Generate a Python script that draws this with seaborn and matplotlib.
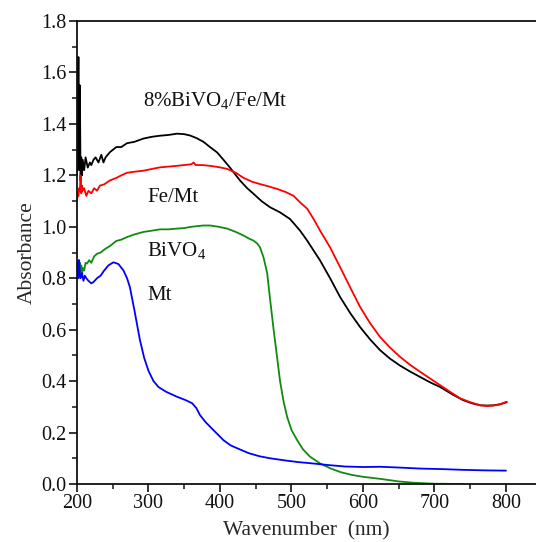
import numpy as np
import pandas as pd
import matplotlib
matplotlib.use("Agg")
import matplotlib.pyplot as plt
from matplotlib.ticker import MultipleLocator
import seaborn as sns

# ---- data ----
bk_x = [200, 201, 202, 203, 204, 205, 206, 207, 208, 210, 212, 215, 218, 220, 223, 226, 230, 234, 237, 240,
        246, 255, 262, 270, 280, 293, 305, 316, 328, 340, 350, 358, 367, 377, 386, 396, 405, 414, 428, 438,
        447, 458, 470, 484, 498, 512, 522, 540, 554, 568, 582, 596, 610, 624, 638, 652, 666, 680, 694, 708,
        724, 740, 752, 764, 774, 783, 792, 801]
bk_y = [1.20, 1.35, 1.66, 1.22, 1.55, 1.18, 1.27, 1.20, 1.26, 1.22, 1.27, 1.23, 1.25, 1.24, 1.26, 1.27, 1.25, 1.28, 1.25, 1.27,
        1.29, 1.31, 1.31, 1.325, 1.33, 1.343, 1.35, 1.354, 1.357, 1.362, 1.36, 1.355, 1.345, 1.33, 1.31, 1.289, 1.26, 1.23, 1.18, 1.15,
        1.128, 1.10, 1.076, 1.056, 1.03, 0.985, 0.946, 0.869, 0.80, 0.727, 0.665, 0.61, 0.562, 0.52, 0.487, 0.46, 0.437, 0.416, 0.395, 0.377,
        0.35, 0.326, 0.314, 0.306, 0.305, 0.306, 0.31, 0.318]

rd_x = [200, 201, 202, 203, 204, 205, 206, 207, 208, 210, 213, 216, 220, 224, 228, 232, 238, 246, 255, 262,
        270, 280, 293, 305, 316, 328, 340, 350, 360, 363, 366, 375, 386, 398, 410, 422, 433, 445, 456, 468,
        480, 492, 503, 512, 522, 531, 540, 554, 568, 582, 596, 610, 624, 638, 652, 666, 680, 694, 708, 722,
        736, 750, 764, 774, 783, 792, 801]
rd_y = [1.10, 1.13, 1.12, 1.15, 1.14, 1.20, 1.13, 1.16, 1.14, 1.15, 1.12, 1.14, 1.13, 1.15, 1.14, 1.16, 1.165, 1.18, 1.19, 1.20,
        1.21, 1.214, 1.218, 1.225, 1.231, 1.234, 1.237, 1.24, 1.243, 1.25, 1.24, 1.24, 1.237, 1.232, 1.225, 1.21, 1.19, 1.175, 1.166, 1.157,
        1.147, 1.135, 1.12, 1.095, 1.07, 1.03, 0.985, 0.92, 0.843, 0.765, 0.688, 0.625, 0.571, 0.53, 0.494, 0.463, 0.436, 0.41, 0.384, 0.358,
        0.333, 0.318, 0.306, 0.303, 0.305, 0.31, 0.32]

gr_x = [200, 201, 202, 203, 204, 205, 206, 207, 208, 210, 212, 214, 217, 220, 224, 228, 233, 240, 246, 255,
        262, 270, 280, 293, 305, 316, 328, 340, 350, 360, 370, 377, 386, 398, 410, 422, 433, 440, 447, 452,
        456, 461, 466, 470, 475, 480, 484, 489, 494, 500, 508, 516, 526, 540, 555, 570, 585, 600, 624, 650,
        670, 700, 740]
gr_y = [0.84, 0.80, 0.87, 0.81, 0.86, 0.82, 0.85, 0.81, 0.84, 0.83, 0.86, 0.857, 0.87, 0.86, 0.885, 0.895, 0.90, 0.915, 0.925, 0.945,
        0.95, 0.96, 0.97, 0.98, 0.985, 0.99, 0.99, 0.993, 0.995, 1.0, 1.003, 1.005, 1.005, 1.0, 0.993, 0.98, 0.966, 0.955, 0.946, 0.935,
        0.92, 0.88, 0.82, 0.72, 0.60, 0.49, 0.40, 0.32, 0.26, 0.21, 0.17, 0.135, 0.106, 0.08, 0.06, 0.045, 0.035, 0.028, 0.02, 0.01,
        0.005, 0.001, 0.0]

bl_x = [200, 201, 202, 203, 204, 205, 207, 209, 211, 213, 216, 220, 223, 228, 233, 238, 244, 251, 258, 265,
        270, 274, 280, 288, 294, 300, 307, 314, 325, 340, 352, 361, 367, 372, 380, 391, 405, 415, 424, 440,
        455, 470, 490, 510, 526, 550, 575, 600, 624, 650, 680, 710, 740, 770, 800]
bl_y = [0.82, 0.86, 0.80, 0.87, 0.81, 0.80, 0.82, 0.79, 0.81, 0.80, 0.79, 0.78, 0.785, 0.80, 0.81, 0.83, 0.85, 0.862, 0.855, 0.83,
        0.80, 0.765, 0.68, 0.56, 0.49, 0.44, 0.40, 0.377, 0.358, 0.339, 0.326, 0.314, 0.295, 0.268, 0.24, 0.209, 0.17, 0.15, 0.139, 0.12,
        0.108, 0.10, 0.092, 0.085, 0.081, 0.074, 0.068, 0.066, 0.067, 0.064, 0.06, 0.058, 0.055, 0.053, 0.052]

names = ["8%BiVO$_4$/Fe/Mt", "Fe/Mt", "BiVO$_4$", "Mt"]
colors = ["#000000", "#ff0000", "#118a11", "#0000ff"]
label_x = [292, 299, 298, 299]
label_y = [1.49, 1.113, 0.908, 0.733]

frames = []
for n, xs, ys in zip(names, [bk_x, rd_x, gr_x, bl_x], [bk_y, rd_y, gr_y, bl_y]):
    frames.append(pd.DataFrame({"wl": xs, "abs": ys, "sample": n}))
df = pd.concat(frames, ignore_index=True)

sns.set_theme(style="ticks")
plt.rcParams["font.family"] = ["Liberation Serif", "DejaVu Serif"]
plt.rcParams["mathtext.fontset"] = "custom"
plt.rcParams["mathtext.rm"] = "Liberation Serif"
plt.rcParams["mathtext.it"] = "Liberation Serif:italic"

fig = plt.figure(figsize=(5.36, 5.42), dpi=100)
ax = fig.add_axes([77 / 536, 1 - 484 / 542, (536 - 77) / 536, (484 - 21) / 542])

sns.lineplot(data=df, x="wl", y="abs", hue="sample", palette=dict(zip(names, colors)),
             estimator=None, sort=False, linewidth=1.3, legend=False, ax=ax)

for n, tx, ty in zip(names, label_x, label_y):
    ax.text(tx, ty, n, fontsize=15, ha="left", va="center", color="#111111")

ax.set_xlim(200, 842)
ax.set_ylim(0, 1.8)
ax.xaxis.set_major_locator(MultipleLocator(100))
ax.xaxis.set_minor_locator(MultipleLocator(50))
ax.yaxis.set_major_locator(MultipleLocator(0.2))
ax.yaxis.set_minor_locator(MultipleLocator(0.1))
ax.yaxis.set_major_formatter(matplotlib.ticker.FormatStrFormatter("%.1f"))
ax.tick_params(which="major", direction="out", length=5.5, width=1.2, labelsize=14.5, colors="#111111", pad=2)
ax.tick_params(which="minor", direction="out", length=3.5, width=1.2)
ax.tick_params(top=False, right=False)
ax.spines["right"].set_visible(False)
for s in ["left", "bottom", "top"]:
    ax.spines[s].set_linewidth(1.3)
    ax.spines[s].set_color("#111111")
ax.set_xlabel("Wavenumber  (nm)", fontsize=15.5, labelpad=5.5)
ax.set_ylabel("Absorbance", fontsize=15.5, labelpad=3)

fig.savefig("out.png", dpi=100)
